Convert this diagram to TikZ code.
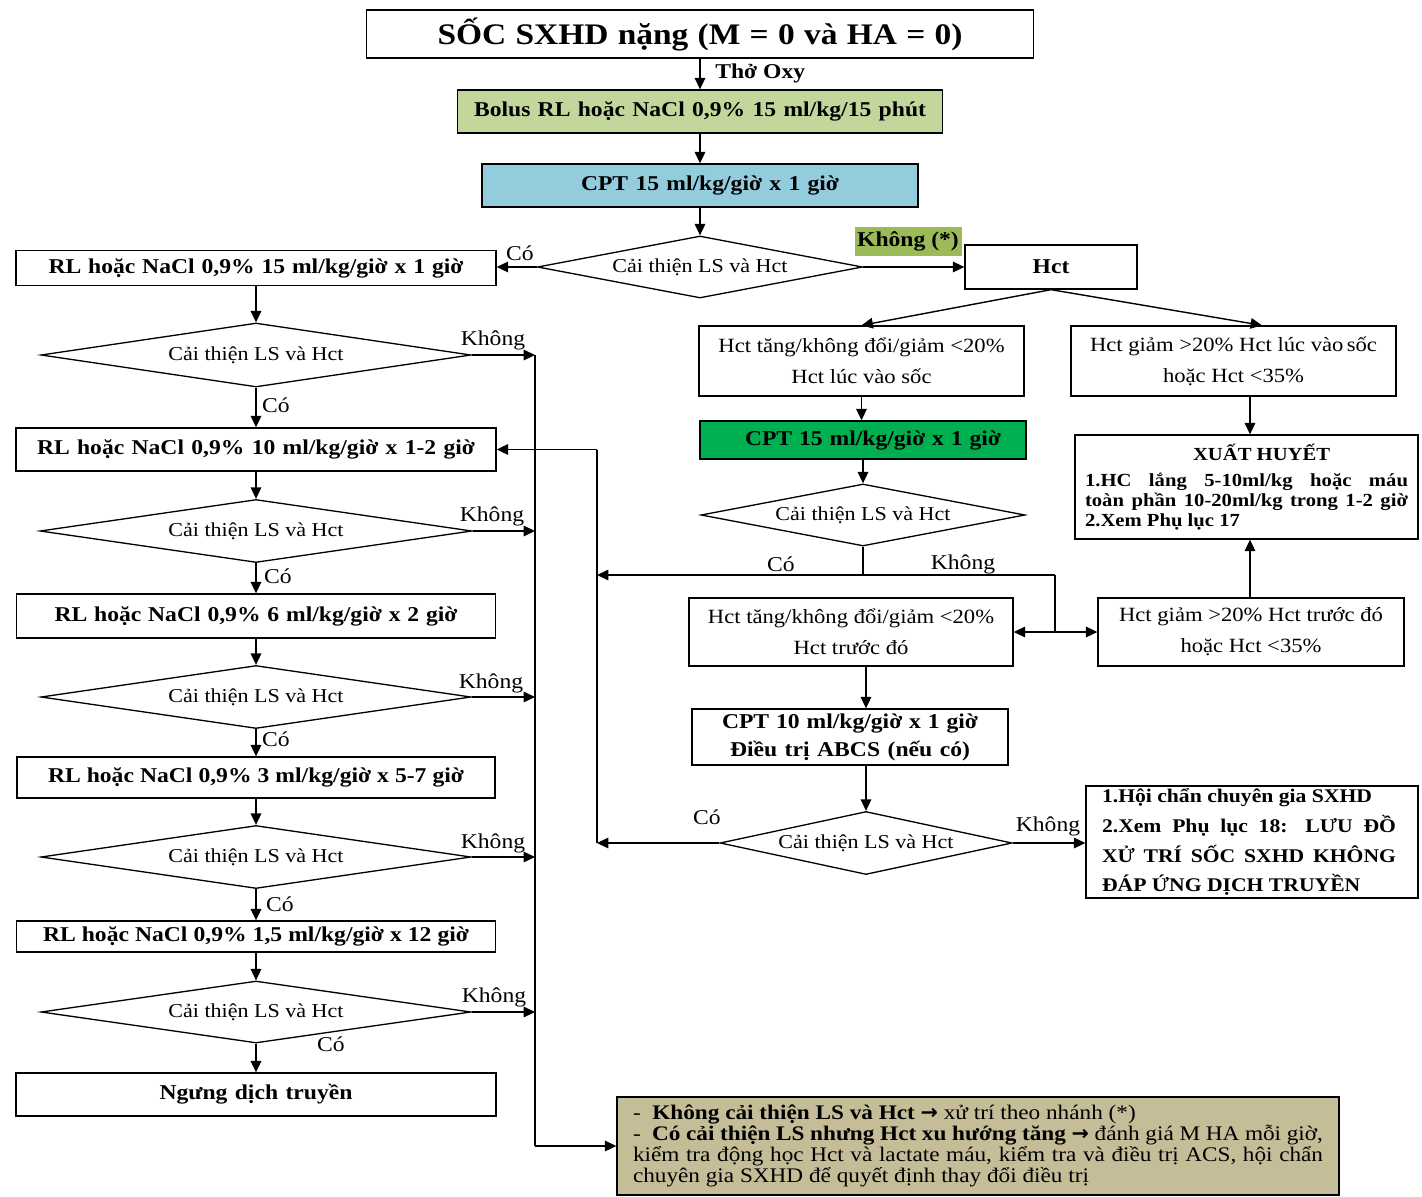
\documentclass[tikz,border=0pt]{standalone}
\usepackage{fontspec}
\setmainfont{Liberation Serif}[FakeStretch=1.12]
\newfontfamily\arrowfont{DejaVu Sans}
\usetikzlibrary{shapes.geometric,arrows.meta,calc}

% one drawing unit = one "pixel" of the layout grid
\newlength\px
\setlength\px{0.02cm}
% a line whose inter-word spaces are stretched to a given width
\newcommand\spreadline[2]{\makebox[#1\px][s]{#2}}
\newcommand\rarr{{\arrowfont\bfseries\char"2192}}

\definecolor{boluscol}{HTML}{C3D69B}
\definecolor{cptblue}{HTML}{93CDDD}
\definecolor{khonggreen}{HTML}{9BBB59}
\definecolor{cptgreen}{HTML}{00B050}
\definecolor{notetan}{HTML}{C4BD97}

\tikzset{
  sz/.style 2 args={minimum width=#1\px, minimum height=#2\px},
  box/.style={draw, line width=0.75pt, inner sep=0pt, align=center, fill=white},
  boldtxt/.style={font=\fontsize{12}{14}\selectfont\bfseries},
  regtxt/.style={font=\fontsize{11.5}{17.6}\selectfont},
  decision/.style={draw, line width=0.75pt, diamond, aspect=6, inner sep=0pt,
    fill=white, font=\fontsize{11.2}{13}\selectfont},
  arr/.style={-{Triangle[length=6.5pt,width=6pt]}, line width=0.8pt},
  dblarr/.style={{Triangle[length=6.5pt,width=6pt]}-{Triangle[length=6.5pt,width=6pt]}, line width=0.8pt},
  lnk/.style={line width=0.8pt},
  lbl/.style={font=\fontsize{12}{14}\selectfont, inner sep=0pt},
}

\begin{document}
\begin{tikzpicture}[x=0.02cm, y=-0.02cm]
\fill[white] (0,0) rectangle (1422,1196);
\useasboundingbox (0,0) rectangle (1422,1196);

% ---------------- main trunk ----------------
\node[box, sz={667}{48}, font=\fontsize{17}{20}\selectfont\bfseries] (title) at (700,34)
  {\spreadline{525}{SỐC SXHD nặng (M = 0 và HA = 0)}};
\node[box, fill=boluscol, sz={485}{43}, boldtxt] (bolus) at (700,111.5)
  {\spreadline{452}{Bolus RL hoặc NaCl 0,9\% 15 ml/kg/15 phút}};
\node[box, fill=cptblue, sz={436}{43}, boldtxt] (cptA) at (700,185.5)
  {\hspace*{20\px}\spreadline{258}{CPT 15 ml/kg/giờ x 1 giờ}};
\node[decision, sz={325}{62}] (dA) at (700,267) {Cải thiện LS và Hct};

% ---------------- left column ----------------
\node[box, sz={480}{35}, boldtxt] (rlA) at (256,268)
  {\spreadline{415}{RL hoặc NaCl 0,9\% 15 ml/kg/giờ x 1 giờ}};
\node[decision, sz={430}{64}] (dL1) at (256,355) {Cải thiện LS và Hct};
\node[box, sz={480}{43}, boldtxt] (rlB) at (256,449.5)
  {\spreadline{438}{RL hoặc NaCl 0,9\% 10 ml/kg/giờ x 1-2 giờ}};
\node[decision, sz={432}{63}] (dL2) at (256,531) {Cải thiện LS và Hct};
\node[box, sz={479}{44}, boldtxt] (rlC) at (256,616)
  {\spreadline{403}{RL hoặc NaCl 0,9\% 6 ml/kg/giờ x 2 giờ}};
\node[decision, sz={430}{63}] (dL3) at (256,697) {Cải thiện LS và Hct};
\node[box, sz={478}{41}, boldtxt] (rlD) at (256,777.5)
  {\spreadline{416}{RL hoặc NaCl 0,9\% 3 ml/kg/giờ x 5-7 giờ}};
\node[decision, sz={430}{63}] (dL4) at (256,857) {Cải thiện LS và Hct};
\node[box, sz={479}{31}, boldtxt] (rlE) at (256,936.5)
  {\spreadline{426}{RL hoặc NaCl 0,9\% 1,5 ml/kg/giờ x 12 giờ}};
\node[decision, sz={430}{62}] (dL5) at (256,1012) {Cải thiện LS và Hct};
\node[box, sz={480}{43}, boldtxt] (stop) at (256,1094.5)
  {\spreadline{193}{Ngưng dịch truyền}};

% ---------------- right branch ----------------
\node[box, sz={172}{44}, font=\fontsize{12}{14}\selectfont\bfseries] (hct) at (1051,267) {Hct};
\node[box, sz={325}{70}, regtxt] (hctA) at (861.5,361)
  {Hct tăng/không đổi/giảm <20\%\\Hct lúc vào sốc};
\node[box, sz={325}{70}, regtxt] (hctB) at (1233.5,361)
  {Hct giảm >20\% Hct lúc vào\,sốc\\hoặc Hct <35\%};
\node[box, fill=cptgreen, sz={326}{38}, boldtxt] (cptB) at (863,440)
  {\hspace*{20\px}\spreadline{256}{CPT 15 ml/kg/giờ x 1 giờ}};
\node[decision, sz={324}{62}] (dB) at (863,515) {Cải thiện LS và Hct};
\node[box, sz={343}{104}, align=left, font=\fontsize{10.5}{11.3}\selectfont\bfseries] (xh) at (1246.5,487)
  {\hspace*{108\px}{\fontsize{10.5}{11.3}\selectfont XUẤT HUYẾT}\\[4pt]
   \spreadline{323}{1.HC lắng 5-10ml/kg hoặc máu}\\
   \spreadline{323}{toàn phần 10-20ml/kg trong 1-2 giờ}\\
   2.Xem Phụ lục 17};
\node[box, sz={324}{68}, regtxt] (hctC) at (851,632)
  {Hct tăng/không đổi/giảm <20\%\\Hct trước đó};
\node[box, sz={306}{68}, regtxt] (hctD) at (1251,632)
  {Hct giảm >20\% Hct trước đó\\hoặc Hct <35\%};
\node[box, sz={316}{56}, font=\fontsize{12}{15.9}\selectfont\bfseries] (cptC) at (850,737)
  {\raisebox{-3\px}{\spreadline{256}{CPT 10 ml/kg/giờ x 1 giờ}}\\\raisebox{-3\px}{\spreadline{240}{Điều trị ABCS (nếu có)}}};
\node[decision, sz={292}{63}] (dC) at (866,843) {Cải thiện LS và Hct};
\node[box, sz={332}{112}, align=left, font=\fontsize{11}{17}\selectfont\bfseries] (hc) at (1252,842)
  {\hspace*{-6\px}1.Hội chẩn chuyên gia SXHD\\
   \hspace*{-6\px}\spreadline{294}{2.Xem Phụ lục 18: LƯU ĐỒ}\\
   \hspace*{-6\px}\spreadline{294}{XỬ TRÍ SỐC SXHD KHÔNG}\\
   \hspace*{-6\px}ĐÁP ỨNG DỊCH TRUYỀN};

% ---------------- note ----------------
\node[box, fill=notetan, sz={722}{98}, align=left, font=\fontsize{11.8}{11.9}\selectfont] (note) at (978,1146)
  {-\ \ \textbf{Không cải thiện LS và Hct} \rarr{} xử trí theo nhánh (*)\\
   \spreadline{690}{-\ \ \textbf{Có cải thiện LS nhưng Hct xu hướng tăng} \rarr{} đánh giá M HA mỗi giờ,}\\
   \spreadline{690}{kiểm tra động học Hct và lactate máu, kiểm tra và điều trị ACS, hội chẩn}\\
   chuyên gia SXHD để quyết định thay đổi điều trị};

% ---------------- helper points ----------------
\coordinate (bar1top) at (535,355);
\coordinate (bar1bot) at (535,1146);
\coordinate (bar2top) at (597,449.5);
\coordinate (bar2bot) at (597,843);
\coordinate (splitB) at (1055,575);
\coordinate (colXH) at (1250,0);
\coordinate (colHB) at (1262,0);
\coordinate (colC) at (866,0);

% ---------------- connectors: trunk ----------------
\draw[arr] (title.south) -- (bolus.north);
\node[lbl, anchor=west, font=\fontsize{12}{14}\selectfont\bfseries] (oxy) at (715,73) {Thở Oxy};
\draw[arr] (bolus.south) -- (cptA.north);
\draw[arr] (cptA.south) -- (dA.north);
\draw[arr] (dA.west) -- (dA.west -| rlA.east);
\node[lbl] (coA) at (520,253) {Có};
\draw[arr] (dA.east) -- (hct.west);
\node[lbl, fill=khonggreen, sz={107}{29}, font=\fontsize{12}{14}\selectfont\bfseries] (kstar) at (908,241.5) {Không (*)};

% ---------------- connectors: left column ----------------
\draw[arr] (rlA.south) -- (dL1.north);
\draw[arr] (dL1.south) -- (rlB.north);
\draw[arr] (rlB.south) -- (dL2.north);
\draw[arr] (dL2.south) -- (rlC.north);
\draw[arr] (rlC.south) -- (dL3.north);
\draw[arr] (dL3.south) -- (rlD.north);
\draw[arr] (rlD.south) -- (dL4.north);
\draw[arr] (dL4.south) -- (rlE.north);
\draw[arr] (rlE.south) -- (dL5.north);
\draw[arr] (dL5.south) -- (stop.north);

\draw[arr] (dL1.east) -- (dL1.east -| bar1top);
\draw[arr] (dL2.east) -- (dL2.east -| bar1top);
\draw[arr] (dL3.east) -- (dL3.east -| bar1top);
\draw[arr] (dL4.east) -- (dL4.east -| bar1top);
\draw[arr] (dL5.east) -- (dL5.east -| bar1top);
\draw[lnk] (bar1top) -- (bar1bot);
\draw[arr] (bar1bot) -- (note.west);

\node[lbl] (kL1) at (493,340) {Không};
\node[lbl] (kL2) at (492,516) {Không};
\node[lbl] (kL3) at (491,683) {Không};
\node[lbl] (kL4) at (493,843) {Không};
\node[lbl] (kL5) at (494,997) {Không};
\node[lbl] (cL1) at (276,405) {Có};
\node[lbl] (cL2) at (278,576) {Có};
\node[lbl] (cL3) at (276,739) {Có};
\node[lbl] (cL4) at (280,904) {Có};
\node[lbl] (cL5) at (331,1044) {Có};

% ---------------- connectors: right branch ----------------
\draw[arr] (hct.south) -- (hctA.north);
\draw[arr] (hct.south) -- (colHB |- hctB.north);
\draw[arr] (hctA.south) -- (hctA.south |- cptB.north);
\draw[arr] (cptB.south) -- (dB.north);
\draw[arr] (colXH |- hctB.south) -- (colXH |- xh.north);
\draw[lnk] (dB.south) -- (dB.south |- splitB);
\draw[arr] (splitB) -- (splitB -| bar2top);
\draw[lnk] (splitB) -- (splitB |- hctC.east);
\draw[dblarr] (hctC.east) -- (hctD.west);
\draw[arr] (colXH |- hctD.north) -- (colXH |- xh.south);
\node[lbl] (cB) at (781,564) {Có};
\node[lbl] (kB) at (963,564) {Không};

\draw[arr] (colC |- hctC.south) -- (colC |- cptC.north);
\draw[arr] (colC |- cptC.south) -- (dC.north);
\draw[arr] (dC.west) -- (dC.west -| bar2bot);
\draw[arr] (dC.east) -- (dC.east -| hc.west);
\node[lbl] (cC) at (707,817) {Có};
\node[lbl] (kC) at (1048,826) {Không};

\draw[lnk] (bar2bot) -- (bar2top);
\draw[arr] (bar2top) -- (rlB.east);
\end{tikzpicture}
\end{document}
